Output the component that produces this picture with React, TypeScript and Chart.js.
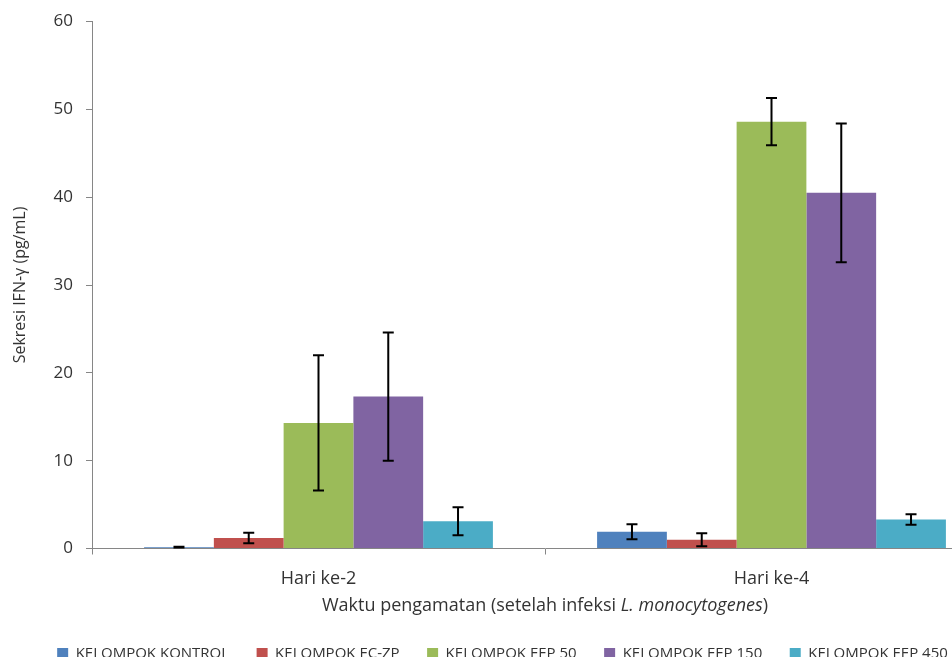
import React, { useEffect, useRef } from "react";
import { Chart, registerables } from "chart.js";

Chart.register(...registerables);

const categories = ["Hari ke-2", "Hari ke-4"];
const seriesNames = [
  "KELOMPOK KONTROL",
  "KELOMPOK EC-ZP",
  "KELOMPOK EEP 50",
  "KELOMPOK EEP 150",
  "KELOMPOK EEP 450",
];
const kontrol = [0.15, 1.9];
const kontrolErr = [0.05, 0.85];
const ecZp = [1.2, 1.0];
const ecZpErr = [0.6, 0.75];
const eep50 = [14.3, 48.6];
const eep50Err = [7.7, 2.7];
const eep150 = [17.3, 40.5];
const eep150Err = [7.3, 7.9];
const eep450 = [3.1, 3.3];
const eep450Err = [1.6, 0.6];
const yTicks = [0, 10, 20, 30, 40, 50, 60];
const colors = ["#4F81BD", "#C0504D", "#9BBB59", "#8064A2", "#4BACC6"];
const yTitle = "Sekresi IFN-γ (pg/mL)";
const xTitleParts: [string, boolean][] = [
  ["Waktu pengamatan (setelah infeksi ", false],
  ["L. monocytogenes", true],
  [")", false],
];

const values = [kontrol, ecZp, eep50, eep150, eep450];
const errors = [kontrolErr, ecZpErr, eep50Err, eep150Err, eep450Err];

const TEXT = "#333333";
const AXIS = "#868686";
const FONT = "'Open Sans', sans-serif";

const errorBarPlugin = {
  id: "errorBars",
  afterDatasetsDraw(chart: any) {
    const ctx = chart.ctx;
    const y = chart.scales.y;
    ctx.save();
    ctx.strokeStyle = "#000";
    ctx.lineWidth = 2;
    chart.data.datasets.forEach((ds: any, di: number) => {
      const meta = chart.getDatasetMeta(di);
      meta.data.forEach((el: any, i: number) => {
        const v = ds.data[i];
        const e = errors[di][i];
        const yTop = y.getPixelForValue(v + e);
        const yBot = y.getPixelForValue(v - e);
        const x = el.x;
        const cap = 5.5;
        ctx.beginPath();
        ctx.moveTo(x, yTop);
        ctx.lineTo(x, yBot);
        ctx.moveTo(x - cap, yTop);
        ctx.lineTo(x + cap, yTop);
        ctx.moveTo(x - cap, yBot);
        ctx.lineTo(x + cap, yBot);
        ctx.stroke();
      });
    });
    ctx.restore();
  },
};

const xTitlePlugin = {
  id: "xTitle",
  afterDraw(chart: any) {
    const ctx = chart.ctx;
    const area = chart.chartArea;
    const cx = (area.left + area.right) / 2;
    const cy = area.bottom + 57;
    ctx.save();
    ctx.fillStyle = TEXT;
    ctx.textBaseline = "middle";
    ctx.textAlign = "left";
    const fontFor = (it: boolean) => `${it ? "italic " : ""}18px ${FONT}`;
    let total = 0;
    for (const [t, it] of xTitleParts) {
      ctx.font = fontFor(it);
      total += ctx.measureText(t).width;
    }
    let x = cx - total / 2;
    for (const [t, it] of xTitleParts) {
      ctx.font = fontFor(it);
      ctx.fillText(t, x, cy);
      x += ctx.measureText(t).width;
    }
    ctx.restore();
  },
};

export default function App() {
  const ref = useRef<HTMLCanvasElement>(null);
  useEffect(() => {
    if (!ref.current) return;
    const chart = new Chart(ref.current, {
      type: "bar",
      data: {
        labels: categories,
        datasets: seriesNames.map((name, i) => ({
          label: name,
          data: values[i],
          backgroundColor: colors[i],
          borderWidth: 0,
          categoryPercentage: 0.77,
          barPercentage: 1,
        })),
      },
      options: {
        animation: false,
        responsive: false,
        devicePixelRatio: 1,
        layout: { padding: { left: 7, top: 20, right: 12, bottom: 0 } },
        plugins: {
          tooltip: { enabled: false },
          legend: {
            position: "bottom",
            labels: {
              boxWidth: 11,
              boxHeight: 11,
              padding: 27.5,
              color: TEXT,
              font: { family: FONT, size: 15 },
            },
          },
        },
        scales: {
          x: {
            offset: true,
            grid: {
              display: true,
              drawOnChartArea: false,
              drawTicks: true,
              tickLength: 6,
              color: AXIS,
              offset: true,
            },
            border: { display: true, color: AXIS },
            ticks: { color: TEXT, padding: 14, font: { family: FONT, size: 18 } },
            afterFit: (s: any) => {
              s.height = 70;
            },
          },
          y: {
            min: 0,
            max: 60,
            afterBuildTicks: (s: any) => {
              s.ticks = yTicks.map((v) => ({ value: v }));
            },
            grid: {
              display: true,
              drawOnChartArea: false,
              drawTicks: true,
              tickLength: 6,
              color: AXIS,
            },
            border: { display: true, color: AXIS },
            ticks: {
              color: TEXT,
              padding: 13,
              font: { family: FONT, size: 17, lineHeight: 1 },
            },
            title: {
              display: true,
              text: yTitle,
              color: TEXT,
              font: { family: FONT, size: 16 },
              padding: { top: 4, bottom: 4 },
            },
            afterFit: (s: any) => {
              s.width = 85;
            },
          },
        },
      },
      plugins: [errorBarPlugin, xTitlePlugin],
    });
    return () => chart.destroy();
  }, []);
  return (
    <div
      style={{
        position: "absolute",
        left: 0,
        top: 0,
        width: 952,
        height: 657,
        overflow: "hidden",
        background: "#fff",
      }}
    >
      <canvas ref={ref} width={1010} height={671} style={{ display: "block" }} />
    </div>
  );
}
